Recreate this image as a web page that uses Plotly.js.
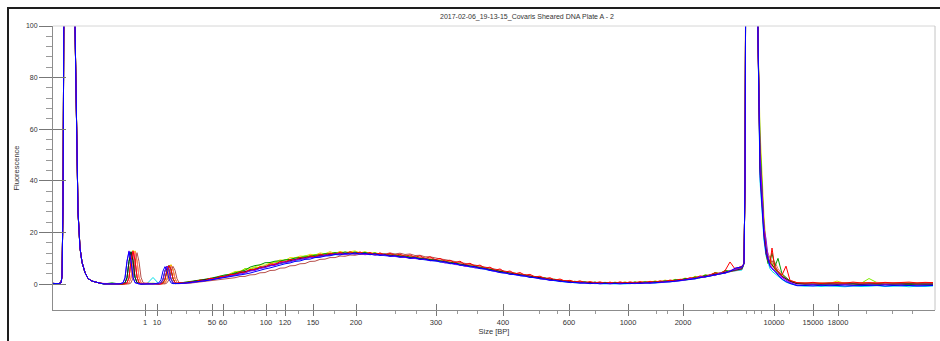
<!DOCTYPE html>
<html><head><meta charset="utf-8">
<script src="https://cdn.plot.ly/plotly-3.0.1.min.js"></script>
<style>
html,body{margin:0;padding:0;background:#fff;overflow:hidden;width:940px;height:341px;}
#frame{position:absolute;left:7px;top:7px;width:931px;height:332px;border-left:2px solid #1e1e1e;border-top:2px solid #1e1e1e;}
#chart{position:absolute;left:0;top:0;width:940px;height:341px;}
</style></head><body>
<div id="frame"></div><div id="chart"></div>
<script>
// ---- axis labels (size in bp) at their migration positions (scan units) ----
const tickPos = [92,104,159,170,213,232,260,303,383,450,516,575,630,721,760,785];
const tickLabels = ['1','10','50','60','100','120','150','200','300','400','600','1000','2000','10000','15000','18000'];
const minorTickPos = [118,133,146,181,191,201,223,245,281,342,363,404,424,486,504,542,603,614,660,674,693,701,708,736,813,839,859];
const yTicks = [0,20,40,60,80,100];
const yMinorTicks = [4,8,12,16,24,28,32,36,44,48,52,56,64,68,72,76,84,88,92,96];

// ---- migration positions (scan units) ----
const xLower = [0,5,8,9,10,11,13,16,19,21,22,23,24,25,27,29,32,35,39,43,47];
const xMain = [51,59,66,70,72,74,76,78,80,82,84,86,88,90,94,100,106,108,110,112,114,116,118,120,122,124,126,
  132,137,142,147,152,157,162,167,172,177, 182,187,192,197,202,207,212,217,222,227,
  232,237,242,247,252,257,262,267,272,277, 282,287,292,297,302,307,312,317,322,327,
  332,337,342,347,352,357,362,367,372,377, 382,387,392,397,402,407,412,417,422,427,
  432,437,442,447,452,457,462,467,472,477, 482,487,492,497,502,507,512,517,522,527,
  532,537,542,547,552,557,562,567,572,577, 582,587,592,597,602,607,612,617,622,627,
  632,637,642,647,652,657,662,667,672,677, 682, 689];
const xUpper = [691,692,693,695,698,701,703,704,705];
const xTail = [707,709,711,713,715,717,719,722,725,729,733,737,744,752,760,768,776,784,792,800,808,816,824,832,840,848,856,864,872,880];

// ---- lower / upper marker fluorescence (all wells overlap) ----
const lowerMarkerY = [0.3,0.2,0.5,3,30,110,300,420,300,160,100,72,48,28,14,8.5,4.5,2.2,1.2,0.7,0.4];
const upperMarkerY = [8,40,150,400,520,400,220,140,95];

// ---- per-well fluorescence ----
const mainYellow = [0.2,0.1,0.3, 0.1,0.1,0.5,2.6,9.3,13.2,9.5,2.8,0.6,0.2,0.2, 0.3,0.2, 0.2,0.2,0.2,0.5,2.0,5.5,7.6,5.8,2.2,0.6,0.4,
  0.6,0.9,1.2,1.2,1.8,2.1,2.3,3.0,3.2,3.9,
  4.9,5.0,5.9,6.0,6.6,7.5,7.4,8.2,8.6,9.4,
  9.2,10.3,10.2,10.9,10.8,11.6,11.3,12.1,11.8,12.6,
  11.9,12.7,12.2,12.5,12.9,12.1,12.6,11.9,12.3,11.6,
  11.8,11.2,11.6,10.8,11.2,10.5,10.7,9.9,10.2,9.4,
  9.6,8.8,9.1,8.2,8.5,7.6,7.8,6.9,7.1,6.3,
  6.4,5.5,5.7,4.8,4.9,4.1,4.3,3.5,3.7,2.9,
  3.0,2.3,2.4,1.8,1.9,1.2,1.4,0.9,1.1,0.6,
  0.9,0.4,0.8,0.3,0.7,0.3,0.8,0.4,0.9,0.3,
  0.9,0.5,1.1,0.6,1.3,0.8,1.6,1.1,1.9,1.5,
  2.4,1.9,3.1,2.5,3.6,3.2,4.6,3.9,5.3,4.8,
  6.0, 6.5];
const tailYellow = [60,42,26,16,11,8,7,6.5,5,3,2.2,1.4, 0.6,0.3,0.2,0.4,0.2,1.2,0.3,0.2,0.5,0.3,0.4,0.6,0.2,0.3,0.5,0.2,0.4,0.6];

const mainLime = [0.1,0.2,0.1, 0.1,0.2,0.5,2.4,8.8,12.6,9.0,2.7,0.6,0.2,0.1, 0.2,0.4, 0.1,0.1,0.5,1.9,5.2,7.0,5.5,2.1,0.6,0.3,0.4,
  0.7,0.6,1.3,1.1,1.9,1.8,2.6,2.5,3.4,3.3,
  4.7,4.6,6.1,5.7,6.4,6.6,7.2,7.8,8.3,8.6,
  9.5,9.4,10.2,10.3,11.0,10.9,11.5,11.4,11.9,11.8,
  12.3,11.7,12.4,12.0,12.5,11.9,12.4,11.6,12.1,11.3,
  11.7,11.0,11.4,10.7,11.0,10.2,10.6,9.8,10.1,9.3,
  9.7,8.7,9.0,8.2,8.5,7.5,7.7,6.9,7.2,6.2,
  6.4,5.4,5.6,4.7,4.9,4.0,4.3,3.4,3.6,2.8,
  3.0,2.3,2.5,1.7,1.8,1.2,1.4,0.8,1.0,0.6,
  0.8,0.4,0.7,0.3,0.6,0.2,0.5,0.3,0.6,0.3,
  0.8,0.4,0.9,0.5,1.0,0.7,1.3,1.0,1.6,1.4,
  2.1,1.9,2.7,2.4,3.5,3.2,4.4,4.0,5.1,5.0,
  5.4, 6.0];
const tailLime = [48,32,21,13,9,11,8,5.5,4,3.2,2,1.0, 0.4,0.5,0.3,0.2,0.6,0.3,0.2,0.4,0.3,2.2,0.6,0.4,0.3,0.5,0.3,0.4,0.2,0.4];

const mainCyan = [0.0,0.1,0.2, 0.1,0.5,2.4,8.7,12.4,8.9,2.6,0.6,0.2,0.1,0.1, 0.2,2.6, 0.1,0.5,1.8,5.1,6.8,5.3,2.0,0.5,0.2,0.3,0.3,
  0.3,0.6,0.7,1.2,1.3,1.8,2.0,2.6,2.8,3.3,
  3.6,4.2,4.5,5.2,5.5,6.2,6.5,7.1,7.5,8.0,
  8.4,8.9,9.2,9.7,9.9,10.3,10.5,10.9,11.0,11.4,
  11.4,11.7,11.6,11.9,11.7,11.8,11.6,11.6,11.3,11.3,
  11.0,11.0,10.7,10.6,10.3,10.2,9.9,9.8,9.4,9.3,
  8.9,8.7,8.3,8.1,7.7,7.5,7.0,6.8,6.4,6.1,
  5.7,5.4,4.9,4.6,4.2,4.0,3.6,3.4,3.0,2.8,
  2.4,2.2,1.8,1.7,1.3,1.2,0.8,0.8,0.5,0.5,
  0.3,0.4,0.2,0.3,0.1,0.3,0.1,0.2,0.1,0.3,
  0.2,0.4,0.3,0.5,0.4,0.7,0.7,1.0,1.0,1.4,
  1.5,1.9,2.0,2.5,2.7,3.2,3.5,4.0,4.3,4.9,
  5.2, 5.5];
const tailCyan = [40,26,17,11,8,6,5,4,3,1.8,0.8,0.2, -0.5,-0.8,-0.6,-0.9,-0.7,-0.8,-1.0,-0.7,-0.9,-0.8,-0.6,-0.9,-0.8,-0.7,-1.0,-0.8,-0.9,-0.7];

const mainOrange = [0.2,0.1,0.2, 0.1,0.1,0.1,0.5,2.5,9.0,12.9,9.3,2.7,0.6,0.2, 0.3,0.2, 0.1,0.2,0.2,0.5,1.9,5.4,7.4,5.7,2.1,0.6,0.3,
  0.6,1.0,1.1,1.6,1.7,2.2,2.4,3.0,3.2,3.8,
  4.0,4.7,4.9,5.6,5.9,6.6,6.9,7.7,7.9,8.6,
  8.8,9.5,9.6,10.2,10.3,10.9,10.9,11.4,11.4,11.9,
  11.8,12.2,12.0,12.3,12.1,12.3,12.0,12.1,11.7,11.8,
  11.4,11.5,11.1,11.2,10.7,10.8,10.3,10.3,9.8,9.8,
  9.3,9.3,8.7,8.7,8.1,8.0,7.4,7.4,6.8,6.7,
  6.1,6.0,5.3,5.2,4.6,4.6,4.0,4.0,3.4,3.4,
  2.8,2.8,2.2,2.2,1.7,1.7,1.2,1.3,0.9,1.0,
  0.7,0.8,0.6,0.7,0.5,0.7,0.5,0.7,0.5,0.7,
  0.6,0.8,0.7,0.9,0.8,1.1,1.1,1.4,1.4,1.8,
  1.9,2.4,2.4,3.0,3.1,3.7,3.9,4.5,4.7,5.4,
  5.8, 6.3];
const tailOrange = [52,36,23,15,10,9,8,7,5,3.4,2.1,1.0, 0.3,0.4,0.3,0.5,0.2,0.4,0.6,0.3,0.5,0.4,0.7,0.5,0.4,0.6,0.5,0.4,0.6,0.5];

const mainPink = [0.1,0.3,0.2, 0.1,0.1,0.2,0.5,2.4,8.6,12.3,8.9,2.7,0.6,0.2, 0.2,0.3, 0.2,0.1,0.2,0.5,1.8,5.2,7.0,5.4,2.2,0.6,0.3,
  0.5,0.8,1.0,1.4,1.5,2.0,2.2,2.8,3.0,3.6,
  3.8,4.5,4.7,5.4,5.7,6.4,6.7,7.4,7.7,8.3,
  8.6,9.2,9.4,9.9,10.1,10.6,10.7,11.1,11.2,11.6,
  11.6,11.9,11.8,12.1,11.9,12.1,11.8,11.9,11.5,11.7,
  11.6,11.6,11.3,11.2,10.9,10.8,10.5,10.4,10.0,9.9,
  9.5,9.3,8.9,8.7,8.3,8.1,7.6,7.4,7.0,6.7,
  6.3,6.0,5.5,5.2,4.8,4.5,4.1,3.9,3.5,3.2,
  2.9,2.6,2.3,2.0,1.7,1.5,1.2,1.1,0.9,0.8,
  0.7,0.6,0.5,0.5,0.4,0.5,0.4,0.5,0.4,0.5,
  0.5,0.6,0.6,0.7,0.7,0.9,1.0,1.2,1.3,1.6,
  1.8,2.1,2.3,2.8,3.0,3.6,3.8,4.5,4.6,5.1,
  5.7, 6.2];
const tailPink = [50,34,22,14,12,10,9,8.5,6,4,2.5,1.2, 0.4,0.2,0.5,0.3,0.4,0.2,0.3,0.5,0.3,0.2,0.4,0.3,0.5,0.2,0.4,0.3,0.2,0.4];

const mainMagenta = [0.3,0.1,0.2, 0.1,0.2,0.5,2.5,8.9,12.7,9.1,2.7,0.6,0.2,0.2, 0.2,0.1, 0.1,0.1,0.5,2.0,5.3,7.1,5.6,2.1,0.5,0.3,0.3,
  0.7,0.7,1.2,1.2,1.8,1.9,2.5,2.6,3.3,3.4,
  4.1,4.2,5.0,5.2,6.0,6.1,7.0,7.2,8.0,8.1,
  8.9,9.0,9.7,9.7,10.4,10.4,11.0,10.9,11.5,11.4,
  11.9,11.7,12.1,11.8,12.2,11.8,12.1,11.6,11.8,11.3,
  11.5,11.0,11.2,10.6,10.8,10.2,10.4,9.8,9.9,9.3,
  9.4,8.8,8.8,8.1,8.2,7.5,7.5,6.8,6.9,6.2,
  6.2,5.4,5.4,4.7,4.7,4.0,4.1,3.5,3.5,2.9,
  2.9,2.3,2.3,1.7,1.8,1.2,1.3,0.8,1.0,0.6,
  0.8,0.4,0.7,0.3,0.6,0.3,0.6,0.3,0.6,0.3,
  0.7,0.4,0.8,0.5,0.9,0.7,1.2,1.0,1.5,1.4,
  2.0,1.9,2.5,2.5,3.2,3.3,4.0,4.1,4.8,5.0,
  6.1, 6.8];
const tailMagenta = [46,30,20,13,9,8,6.5,5,3.5,2.5,1.5,0.8, 0.2,0.4,0.1,0.3,0.2,0.5,0.2,0.1,0.3,0.2,0.4,0.1,0.2,0.3,0.1,0.2,0.3,0.2];

const mainGreen = [0.1,0.5,0.1, 0.1,0.5,2.5,8.8,12.6,9.2,2.7,0.6,0.2,0.1,0.2, 0.3,0.2, 0.1,0.2,0.5,1.9,5.4,7.3,5.7,2.1,0.6,0.3,0.4,
  0.6,0.9,1.2,1.5,1.9,2.2,2.7,2.9,3.6,3.8,
  4.5,4.9,5.4,6.6,7.2,7.5,8.3,8.4,8.9,9.0,
  9.4,9.6,10.1,10.3,10.6,10.8,11.2,11.3,11.8,11.7,
  12.2,11.9,12.5,12.1,12.4,12.0,12.3,11.8,12.0,11.6,
  11.6,11.2,11.4,10.9,10.9,10.5,10.5,10.0,10.0,9.5,
  9.5,9.0,8.9,8.4,8.3,7.7,7.6,7.0,7.0,6.4,
  6.3,5.7,5.5,4.9,4.8,4.2,4.2,3.6,3.6,3.0,
  3.0,2.4,2.4,1.8,1.9,1.3,1.4,0.9,1.1,0.7,
  0.9,0.5,0.8,0.4,0.7,0.4,0.7,0.4,0.7,0.5,
  0.8,0.5,0.9,0.6,1.1,0.8,1.3,1.1,1.7,1.5,
  2.2,2.0,2.8,2.6,3.5,3.4,4.4,4.1,5.3,5.0,
  5.5, 6.6];
const tailGreen = [55,38,22,12,8,9,12,7,10,4,2.5,1.2, 0.3,0.0,0.2,0.1,-0.1,0.2,0.0,0.1,-0.2,0.1,0.0,-0.1,0.1,0.0,-0.2,0.1,0.0,-0.1];

const mainBrown = [0.2,0.1,0.2, 0.1,0.1,0.1,0.1,0.5,2.4,8.5,12.2,8.8,2.7,0.6, 0.2,0.2, 0.1,0.1,0.1,0.1,0.5,1.8,5.1,6.9,5.4,2.1,0.6,
  0.3,0.4,0.6,0.8,1.0,1.2,1.5,1.7,2.0,2.2,
  2.5,3.0,3.0,3.6,3.7,4.4,4.5,5.3,5.4,6.2,
  6.3,7.1,7.2,7.9,8.0,8.8,8.9,9.6,9.7,10.3,
  10.3,10.9,10.8,11.3,11.2,11.6,11.5,11.8,11.6,12.0,
  11.7,12.1,11.7,12.0,11.5,11.7,11.1,11.2,10.6,10.6,
  10.1,9.8,9.5,9.1,8.8,8.4,8.1,7.7,7.4,7.0,
  6.6,6.2,5.6,5.3,4.9,4.4,4.1,3.7,3.4,3.0,
  2.7,2.3,2.0,1.8,1.5,1.3,1.1,0.9,0.8,0.7,
  0.6,0.5,0.5,0.4,0.4,0.3,0.4,0.4,0.4,0.4,
  0.5,0.5,0.6,0.6,0.7,0.8,0.9,1.1,1.2,1.4,
  1.6,1.9,2.2,2.5,2.8,3.2,3.5,4.0,4.4,4.9,
  5.3, 5.8];
const tailBrown = [44,29,19,13,10,8,9,7,5,3,2,1.2, 0.5,0.3,0.2,0.4,0.3,0.2,0.5,0.3,0.2,0.4,0.2,0.3,0.4,0.2,0.3,0.2,0.4,0.3];

const mainBlack = [0.1,0.1,0.2, 0.1,0.5,2.5,8.8,12.5,9.1,2.7,0.6,0.2,0.1,0.1, 0.2,0.2, 0.1,0.5,1.9,5.2,7.0,5.5,2.1,0.5,0.2,0.2,0.3,
  0.5,0.8,1.0,1.3,1.6,2.0,2.3,2.7,3.1,3.5,
  3.9,4.4,4.8,5.3,5.8,6.3,6.8,7.3,7.8,8.2,
  8.7,9.1,9.5,9.9,10.2,10.5,10.8,11.1,11.3,11.5,
  11.7,11.8,11.9,12.0,12.0,12.0,11.9,11.8,11.6,11.4,
  11.3,11.2,11.0,10.8,10.6,10.4,10.2,9.9,9.7,9.5,
  9.2,8.9,8.6,8.3,8.0,7.6,7.3,7.0,6.7,6.3,
  6.0,5.6,5.2,4.9,4.5,4.2,3.9,3.6,3.3,3.0,
  2.7,2.4,2.1,1.8,1.6,1.4,1.1,0.9,0.8,0.7,
  0.6,0.5,0.5,0.4,0.4,0.4,0.4,0.4,0.4,0.5,
  0.5,0.5,0.6,0.7,0.7,0.8,1.0,1.2,1.3,1.5,
  1.8,2.0,2.3,2.7,3.0,3.4,3.8,4.2,4.6,5.0,
  5.6, 6.0];
const tailBlack = [45,30,20,14,10,8.5,7.5,6,4.5,3,2,1.2, 0.2,0.0,-0.1,0.0,0.1,-0.1,0.0,0.1,-0.1,0.0,0.1,-0.1,0.0,-0.1,0.1,0.0,-0.1,0.0];

const mainRed = [0.2,0.3,0.1, 0.1,0.1,0.5,2.5,9.0,12.8,9.3,2.8,0.6,0.2,0.2, 0.4,0.2, 0.1,0.1,0.5,1.9,5.4,7.2,5.7,2.2,0.6,0.3,0.6,
  0.4,0.9,0.9,1.6,1.4,2.3,2.1,3.0,2.9,3.8,
  3.7,4.8,4.5,5.7,5.6,6.8,6.4,7.9,7.5,8.8,
  8.4,9.6,9.2,10.4,9.9,11.0,10.5,11.7,11.0,12.1,
  11.4,12.4,11.6,12.6,11.8,12.5,11.7,12.3,11.4,12.1,
  11.2,12.0,11.1,11.6,10.8,11.3,10.4,11.0,9.9,10.6,
  9.5,10.0,8.9,9.3,8.3,8.9,7.6,8.1,7.0,7.4,
  6.2,6.6,5.4,5.9,4.7,5.1,4.0,4.5,3.5,3.8,
  2.8,3.1,2.2,2.5,1.6,2.0,1.2,1.5,0.8,1.3,
  0.6,1.0,0.5,0.9,0.3,0.8,0.3,0.9,0.4,0.9,
  0.5,1.0,0.6,1.1,0.7,1.3,1.0,1.6,1.3,1.9,
  1.8,2.5,2.3,3.2,2.9,3.6,4.4,4.0,5.2,8.6,
  5.9, 7.0];
const tailRed = [47,32,21,12,9,8,14,6,5,3.5,7,1.5, 0.6,0.4,0.7,0.3,0.5,0.6,0.4,0.8,0.5,0.6,0.4,0.7,0.5,0.6,0.8,0.5,0.7,0.6];

const mainPurple = [0.1,0.2,0.1, 0.5,2.5,9.0,12.9,9.2,2.7,0.6,0.2,0.1,0.1,0.1, 0.1,0.2, 0.1,0.5,1.9,5.3,7.0,5.5,2.0,0.5,0.2,0.2,0.2,
  0.3,0.5,0.8,1.0,1.4,1.6,2.0,2.4,2.8,3.1,
  3.6,4.1,4.3,5.1,5.3,6.1,6.4,7.1,7.3,8.1,
  8.4,8.7,9.3,9.5,9.9,10.3,10.4,10.8,11.0,11.2,
  11.5,11.8,11.4,11.9,11.6,11.9,11.4,11.7,11.2,11.4,
  11.1,10.8,10.8,10.4,10.4,10.0,10.0,9.6,9.5,9.1,
  9.0,8.8,8.2,8.2,7.6,7.5,6.9,6.9,6.3,6.2,
  5.8,5.3,5.0,4.5,4.3,3.9,3.7,3.3,3.1,2.7,
  2.5,2.1,1.9,1.5,1.4,1.1,0.9,0.7,0.6,0.4,
  0.4,0.3,0.3,0.2,0.2,0.2,0.2,0.1,0.2,0.2,
  0.3,0.3,0.4,0.4,0.5,0.6,0.8,0.9,1.1,1.3,
  1.6,2.2,2.0,2.9,2.6,3.6,3.3,4.4,4.1,5.3,
  5.6, 6.4];
const tailPurple = [50,33,22,17.5,11,7,6,5,4,2.5,1.5,0.6, -0.3,-0.4,-0.2,-0.5,-0.3,-0.4,-0.2,-0.5,-0.4,-0.3,-0.5,-0.2,-0.4,-0.3,-0.5,-0.4,-0.3,-0.4];

const mainBlue = [0.1,0.0,0.1, 0.5,2.4,8.8,12.6,9.0,2.6,0.6,0.2,0.1,0.0,0.1, 0.1,0.1, 0.5,1.8,5.1,6.8,5.3,2.0,0.5,0.2,0.2,0.2,0.3,
  0.4,0.7,0.8,1.1,1.3,1.7,1.9,2.3,2.6,2.9,
  3.1,3.5,3.9,4.3,4.9,5.3,5.9,6.3,6.9,7.3,
  7.9,8.2,8.8,9.0,9.6,9.7,10.3,10.4,10.9,11.0,
  11.5,11.3,11.9,11.6,12.1,11.6,12.0,11.4,11.8,11.1,
  11.4,10.8,11.0,10.5,10.6,10.0,10.3,9.6,9.8,9.1,
  9.3,8.6,8.7,7.9,8.1,7.3,7.4,6.7,6.8,6.0,
  6.0,5.3,5.1,4.5,4.4,3.8,3.8,3.3,3.2,2.6,
  2.6,2.1,2.0,1.5,1.5,1.0,1.0,0.6,0.7,0.4,
  0.5,0.2,0.4,0.1,0.3,0.1,0.3,0.1,0.3,0.2,
  0.4,0.3,0.5,0.4,0.6,0.6,0.9,0.9,1.2,1.3,
  1.7,1.8,2.2,2.4,2.9,3.1,3.7,3.9,4.5,4.9,
  6.2, 6.7];
const tailBlue = [42,28,18,12,9,7,6,5,3.5,2,1,0.3, -0.6,-0.5,-0.7,-0.4,-0.6,-0.5,-0.7,-0.6,-0.5,-0.6,-0.4,-0.7,-0.5,-0.6,-0.5,-0.7,-0.6,-0.5];

const wells = [
  {main: mainYellow,  tail: tailYellow,  color: '#e3e300'},
  {main: mainLime,    tail: tailLime,    color: '#80f000'},
  {main: mainCyan,    tail: tailCyan,    color: '#00e0e8'},
  {main: mainOrange,  tail: tailOrange,  color: '#ff9a00'},
  {main: mainPink,    tail: tailPink,    color: '#ff7070'},
  {main: mainMagenta, tail: tailMagenta, color: '#ff00ff'},
  {main: mainGreen,   tail: tailGreen,   color: '#009a00'},
  {main: mainBrown,   tail: tailBrown,   color: '#b8504c'},
  {main: mainBlack,   tail: tailBlack,   color: '#202020'},
  {main: mainRed,     tail: tailRed,     color: '#ff0000'},
  {main: mainPurple,  tail: tailPurple,  color: '#8000ff'},
  {main: mainBlue,    tail: tailBlue,    color: '#0000ff'}
];

const xAll = xLower.concat(xMain, xUpper, xTail);
const traces = wells.map(w => ({
  type: 'scatter', mode: 'lines',
  x: xAll,
  y: lowerMarkerY.concat(w.main, upperMarkerY, w.tail),
  line: {color: w.color, width: 1},
  hoverinfo: 'skip'
}));
traces.push({type: 'scatter', mode: 'lines', x: [], y: [], xaxis: 'x2', yaxis: 'y2', hoverinfo: 'skip'});

const font = 'Liberation Sans, Arial, sans-serif';
const layout = {
  width: 940, height: 341,
  margin: {l: 53, r: 5, t: 26, b: 31, pad: 0},
  paper_bgcolor: 'rgba(0,0,0,0)', plot_bgcolor: '#ffffff',
  showlegend: false,
  font: {family: font, size: 7.5, color: '#333'},
  title: {text: '2017-02-06_19-13-15_Covaris Sheared DNA Plate A - 2',
    x: 527/940, xref: 'container', xanchor: 'center',
    y: 1 - 17/341, yref: 'container', yanchor: 'middle',
    font: {family: font, size: 7, color: '#333'}},
  xaxis: {range: [0, 882], showline: true, linecolor: '#8c8c8c', linewidth: 1,
    showgrid: false, zeroline: false, automargin: false,
    tickmode: 'array', tickvals: tickPos, ticktext: tickLabels,
    ticks: 'outside', ticklen: 5, tickcolor: '#777', tickwidth: 1,
    tickfont: {family: font, size: 7.5, color: '#333'},
    minor: {tickmode: 'array', tickvals: minorTickPos, ticks: 'outside', ticklen: 3, tickcolor: '#999', tickwidth: 1, showgrid: false},
    title: {text: 'Size [BP]', font: {family: font, size: 7.5, color: '#333'}, standoff: 1}},
  yaxis: {range: [-10, 100], showline: true, linecolor: '#8c8c8c', linewidth: 1,
    showgrid: false, zeroline: false, automargin: false,
    tickmode: 'array', tickvals: yTicks,
    ticks: 'outside', ticklen: 13, tickcolor: '#777', tickwidth: 1,
    tickfont: {family: font, size: 7, color: '#333'},
    minor: {tickmode: 'array', tickvals: yMinorTicks, ticks: 'outside', ticklen: 6, tickcolor: '#999', tickwidth: 1, showgrid: false},
    title: {text: 'Fluorescence', font: {family: font, size: 7.5, color: '#333'}, standoff: 5}},
  xaxis2: {overlaying: 'x', anchor: 'y2', range: [0, 882], showline: false, showgrid: false, zeroline: false,
    tickmode: 'array', tickvals: tickPos, ticks: 'inside', ticklen: 6, tickcolor: '#777', tickwidth: 1, showticklabels: false},
  yaxis2: {overlaying: 'y', anchor: 'x2', side: 'left', range: [-10, 100], showline: false, showgrid: false, zeroline: false,
    tickmode: 'array', tickvals: yTicks, ticks: 'inside', ticklen: 13, tickcolor: '#777', tickwidth: 1, showticklabels: false},
  shapes: [
    {type: 'line', xref: 'paper', yref: 'paper', x0: 0, x1: 1, y0: 1, y1: 1, line: {color: '#d6d6d6', width: 1}},
    {type: 'line', xref: 'paper', yref: 'paper', x0: 1, x1: 1, y0: 0, y1: 1, line: {color: '#c4c4c4', width: 1}}
  ]
};
Plotly.newPlot('chart', traces, layout, {staticPlot: true, displayModeBar: false});
</script>
</body></html>
